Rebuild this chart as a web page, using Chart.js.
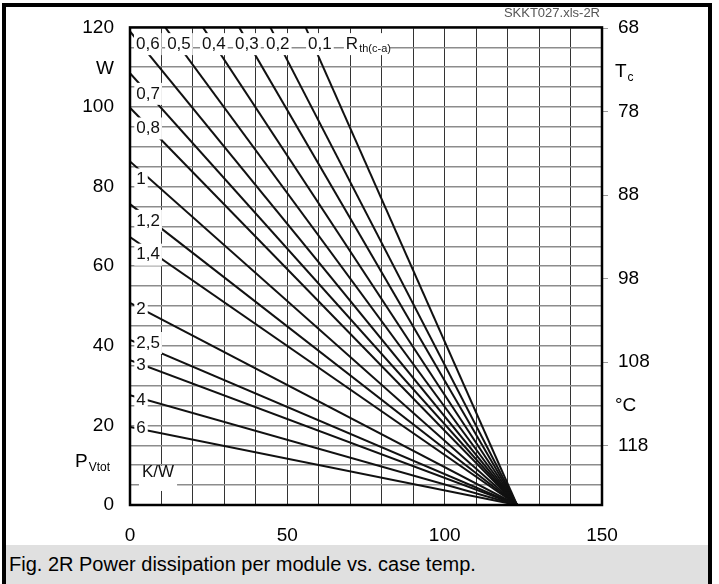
<!DOCTYPE html>
<html>
<head>
<meta charset="utf-8">
<script src="https://cdn.jsdelivr.net/npm/chart.js@4"></script>
<style>
  body { margin: 0; background: #fff; font-family: "Liberation Sans", Arial, sans-serif; }
  #wrap { position: relative; width: 719px; height: 584px; overflow: hidden; }
  #frame { position: absolute; left: 2px; top: 3px; width: 702px; height: 600px; border: 4px solid #000; border-bottom: none; }
  #chart { position: absolute; left: 0; top: 0; }
  #caption { position: absolute; left: 6px; top: 545px; width: 702px; height: 39px; background: #e0e0e0;
             font-size: 20px; line-height: 39px; padding-left: 3px; box-sizing: border-box; color: #000; }
</style>
</head>
<body>
<div id="wrap">
  <div id="frame"></div>
  <canvas id="chart" width="719" height="584"></canvas>
  <div id="caption">Fig. 2R Power dissipation per module vs. case temp.</div>
</div>
<script>
// thermal resistance curves R_th(c-a) in K/W, each a straight line down to P = 0
const rthLabels = ['0,1', '0,2', '0,3', '0,4', '0,5', '0,6', '0,7', '0,8', '1', '1,2', '1,4', '2', '2,5', '3', '4', '6'];
const startTa = [55.8, 44.6, 34.7, 23.2, 11.2, 0, 0, 0, 0, 0, 0, 0, 0, 0, 0, 0];
const startP = [120, 120, 120, 120, 120, 119, 108.5, 99.8, 86.3, 75.6, 67.3, 50.8, 41.5, 36.4, 27.6, 19.6];
const endTa = [123, 123, 123, 123, 123, 123, 123, 123, 123, 123, 123, 123, 123, 123, 123, 123];

// axis ticks
const xTickLabels = [0, 50, 100, 150];
const pTickLabels = [0, 20, 40, 60, 80, 100, 120];
const tcTicks = [68, 78, 88, 98, 108, 118];

const FONT = '"Liberation Sans", Arial, sans-serif';

// where each curve label sits (Ta, P), left aligned
const labelPos = [
    [56.6, 115.8], [43.2, 115.8], [33.4, 115.8], [22.9, 115.8], [11.8, 115.8], [1.9, 115.8],
    [2, 103.3], [2, 94.6], [2, 81.8], [2, 71.4], [2, 62.9], [2, 49.2], [2, 40.7], [2, 35.2], [2, 26.2], [2, 19.2]
];

function textWithSub(ctx, main, sub, x, y, size) {
    ctx.font = size + 'px ' + FONT;
    ctx.fillText(main, x, y);
    const w = ctx.measureText(main).width;
    ctx.font = Math.round(size * 0.65) + 'px ' + FONT;
    ctx.fillText(sub, x + w + 1, y + size * 0.3);
    return w + 1 + ctx.measureText(sub).width;
}

const annotations = {
    id: 'annotations',
    afterDatasetsDraw(chart) {
        const ctx = chart.ctx;
        const xs = chart.scales.x, ys = chart.scales.y, y2 = chart.scales.y2;
        ctx.save();
        ctx.textBaseline = 'middle';
        ctx.textAlign = 'left';

        // curve labels on white boxes
        ctx.font = '17px ' + FONT;
        rthLabels.forEach((txt, i) => {
            const px = xs.getPixelForValue(labelPos[i][0]);
            const py = ys.getPixelForValue(labelPos[i][1]);
            const w = ctx.measureText(txt).width;
            ctx.fillStyle = '#fff';
            ctx.fillRect(px - 2, py - 11, w + 4, 22);
            ctx.fillStyle = '#111';
            ctx.fillText(txt, px, py);
        });

        // R_th(c-a) header
        let px = xs.getPixelForValue(68.6), py = ys.getPixelForValue(115.8);
        ctx.fillStyle = '#fff';
        ctx.fillRect(px - 2, py - 11, 46, 22);
        ctx.fillStyle = '#111';
        textWithSub(ctx, 'R', 'th(c-a)', px, py, 17);

        // K/W
        px = xs.getPixelForValue(3.8); py = ys.getPixelForValue(8.3);
        ctx.font = '17px ' + FONT;
        ctx.fillStyle = '#fff';
        ctx.fillRect(px - 3, py - 6, ctx.measureText('K/W').width + 6, 25);
        ctx.fillStyle = '#111';
        ctx.fillText('K/W', px, py);

        // axis units
        ctx.fillStyle = '#000';
        ctx.font = '19px ' + FONT;
        ctx.textAlign = 'right';
        ctx.fillText('W', ys.right - 16, ys.getPixelForValue(109.5));
        ctx.textAlign = 'left';
        textWithSub(ctx, 'P', 'Vtot', 75, ys.getPixelForValue(10.8), 19);
        const by = xs.bottom + 28;
        textWithSub(ctx, 'T', 'a', xs.getPixelForValue(23.5), by, 19);
        ctx.font = '19px ' + FONT;
        ctx.textAlign = 'center';
        ctx.fillText('°C', xs.getPixelForValue(127.4), by);
        ctx.textAlign = 'left';
        textWithSub(ctx, 'T', 'c', 615, y2.getPixelForValue(73.2), 19);
        ctx.font = '19px ' + FONT;
        ctx.fillText('°C', 615, y2.getPixelForValue(113.2));

        // file tag
        ctx.font = '13px ' + FONT;
        ctx.fillStyle = '#555';
        ctx.textAlign = 'right';
        ctx.fillText('SKKT027.xls-2R', chart.chartArea.right - 2, 13);

        // plot frame
        const a = chart.chartArea;
        ctx.strokeStyle = '#000';
        ctx.lineWidth = 2.5;
        ctx.strokeRect(a.left, a.top, a.right - a.left, a.bottom - a.top);
        ctx.restore();
    }
};

const datasets = rthLabels.map((r, i) => ({
    label: r,
    data: [{ x: startTa[i], y: startP[i] }, { x: endTa[i], y: 0 }],
    borderColor: '#111',
    borderWidth: 2,
    pointRadius: 0,
    showLine: true,
    fill: false
}));

new Chart(document.getElementById('chart'), {
    type: 'scatter',
    data: { datasets },
    options: {
        responsive: false,
        animation: false,
        events: [],
        layout: { padding: { top: 24, left: 0, right: 0, bottom: 0 } },
        plugins: { legend: { display: false }, tooltip: { enabled: false } },
        scales: {
            x: {
                type: 'linear', min: 0, max: 150,
                border: { display: false },
                grid: { color: '#333', lineWidth: 1, drawTicks: false },
                ticks: {
                    stepSize: 10, autoSkip: false, maxRotation: 0, maxTicksLimit: 20,
                    padding: 19, color: '#000', font: { family: FONT, size: 19 },
                    callback: v => xTickLabels.includes(v) ? v : ''
                },
                afterFit: s => { s.height = 79; }
            },
            y: {
                type: 'linear', min: 0, max: 120,
                border: { display: false },
                grid: { color: '#8c8c8c', lineWidth: 1.5, drawTicks: false },
                ticks: {
                    stepSize: 5, autoSkip: false, maxTicksLimit: 30,
                    padding: 16, color: '#000', font: { family: FONT, size: 19 },
                    callback: v => pTickLabels.includes(v) ? v : ''
                },
                afterFit: s => { s.width = 130; }
            },
            y2: {
                type: 'linear', position: 'right', reverse: true, min: 67.9, max: 125.1,
                border: { display: false },
                grid: { drawOnChartArea: false, color: '#999', tickLength: 6 },
                afterBuildTicks: s => { s.ticks = tcTicks.map(v => ({ value: v })); },
                ticks: { padding: 10, color: '#000', font: { family: FONT, size: 19 } },
                afterFit: s => { s.width = 117; }
            }
        }
    },
    plugins: [annotations]
});
</script>
</body>
</html>
